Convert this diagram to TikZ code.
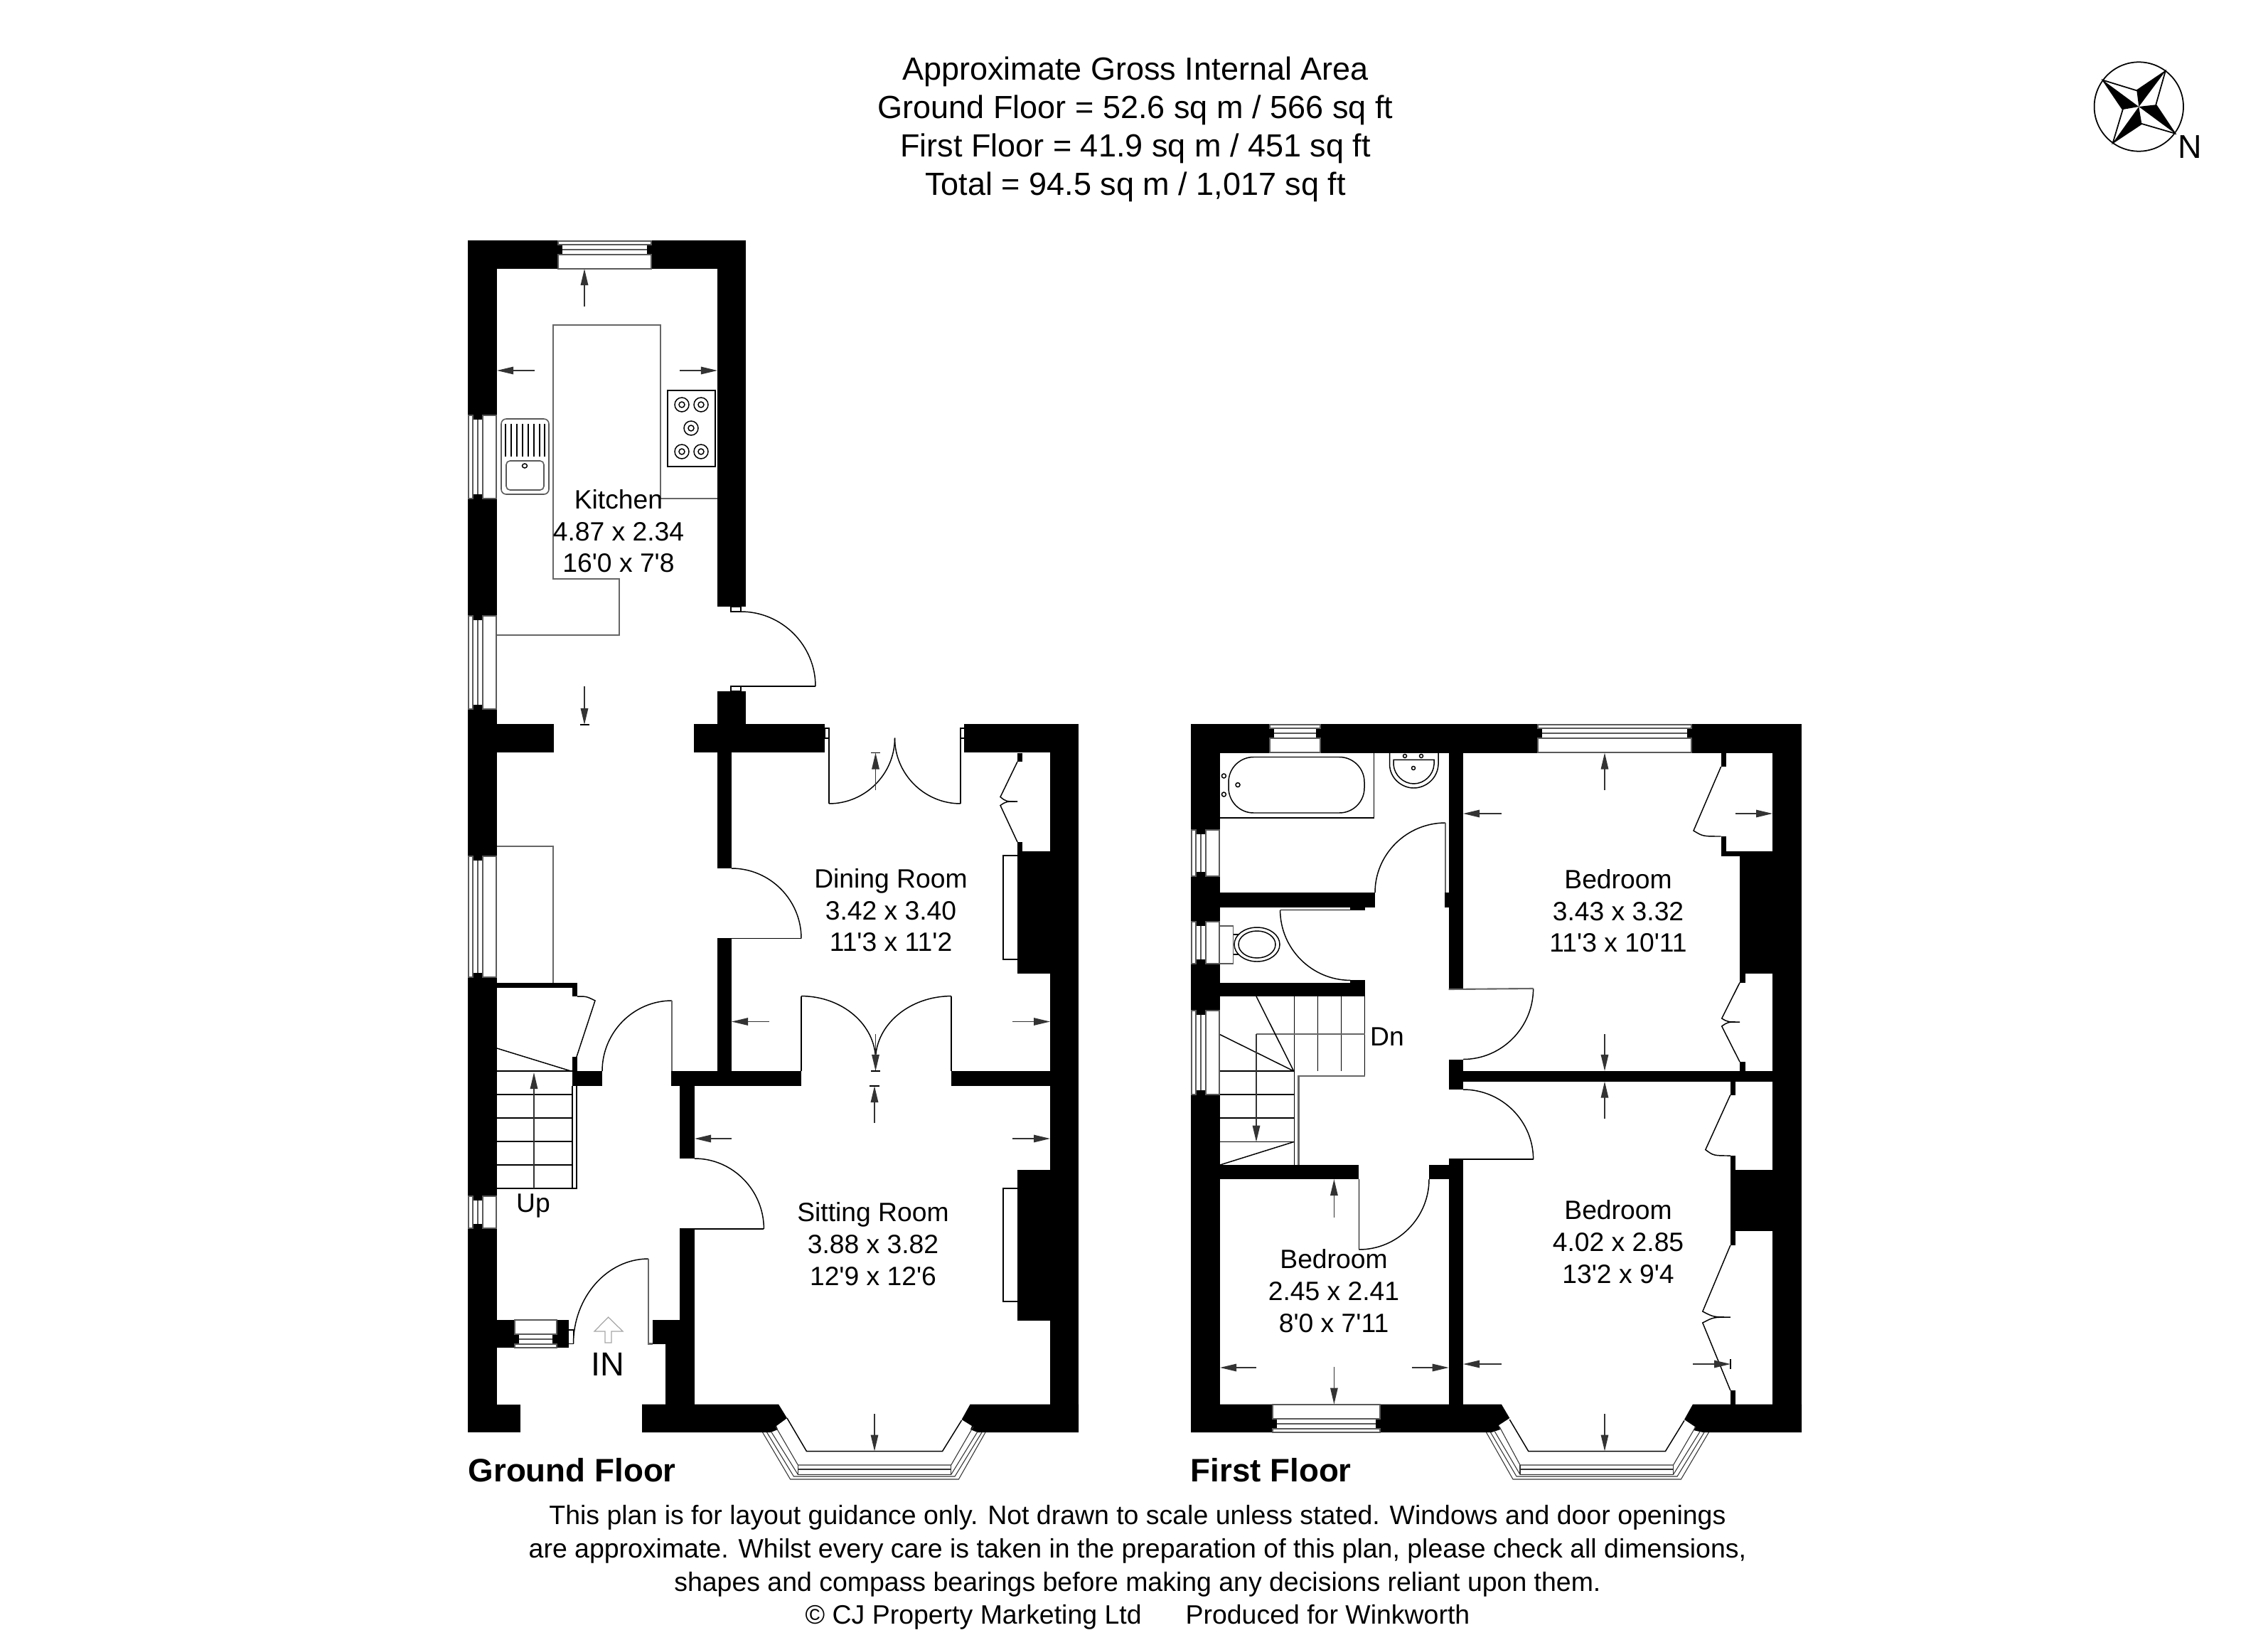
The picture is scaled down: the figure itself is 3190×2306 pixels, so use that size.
\documentclass[tikz,border=0pt]{standalone}
\usepackage{fontspec}
\usepackage{tikz}
\usetikzlibrary{arrows.meta}
\newfontfamily\planfont{Liberation Sans}
\tikzset{
	wall/.style={fill=black},
	thinline/.style={line width=0.42pt},
	bayline/.style={line width=0.3pt,black!80},
	greyline/.style={line width=0.6pt,black!60},
	winline/.style={line width=0.45pt,black!65},
	dim/.style={->,line width=0.4pt,black!80},
	roomlabel/.style={font=\planfont\fontsize{10.6}{12.7}\selectfont,align=center,inner sep=0pt},
	headtext/.style={font=\planfont\fontsize{12.8}{15.3}\selectfont,align=center,inner sep=0pt},
	foottext/.style={font=\planfont\fontsize{10.65}{13.3}\selectfont,align=center,inner sep=0pt},
	floorlabel/.style={font=\planfont\bfseries\fontsize{13}{15}\selectfont,anchor=west,inner sep=0pt},
}
% window in a left hand wall
\newcommand{\winV}[3]{
	\fill[white] (#1,#2) rectangle (#1+40,#3);
	\fill[black] (#1+7,#2) rectangle (#1+21,#2+6);
	\fill[black] (#1+7,#3-6) rectangle (#1+21,#3);
	\draw[winline] (#1+1,#2) rectangle (#1+7,#3);
	\draw[winline] (#1+21,#2) rectangle (#1+40,#3);
	\draw[winline] (#1+14,#2+6) -- (#1+14,#3-6);
}
% window in a horizontal wall, #3 is the outside edge, #4 the side of the room
\newcommand{\winH}[4]{
	\fill[white] (#1,#3) rectangle (#2,#3+#4*39);
	\fill[black] (#1,#3+#4*5) rectangle (#1+6,#3+#4*19);
	\fill[black] (#2-6,#3+#4*5) rectangle (#2,#3+#4*19);
	\draw[winline] (#1,#3) rectangle (#2,#3+#4*5);
	\draw[winline] (#1,#3+#4*19) rectangle (#2,#3+#4*39);
	\draw[winline] (#1+6,#3+#4*12) -- (#2-6,#3+#4*12);
}
% door swing, leaves the hinge side level and ends upright
\newcommand{\swing}[4]{
	\draw[thinline] (#1,#2) .. controls ({#1+0.55*(#3-(#1))},#2) and (#3,{#4-0.55*(#4-(#2))}) .. (#3,#4);
}
\newcommand{\burner}[2]{
	\draw[thinline] (#1,#2) circle [x radius=10,y radius=10];
	\draw[thinline] (#1,#2) circle [x radius=4,y radius=4];
}
\begin{document}
\begin{tikzpicture}[x=0.01cm,y=-0.01cm,>={Triangle[length=0.23cm,width=0.105cm]}]
	\useasboundingbox (0,0) rectangle (3190,2306);
	%Heading
	\node[headtext] (heading) at (1597,182) {Approximate Gross Internal Area\\Ground Floor = 52.6 sq m / 566 sq ft\\First Floor = 41.9 sq m / 451 sq ft\\Total = 94.5 sq m / 1,017 sq ft};
	%Compass
	\draw[line width=0.5pt] (3008.3,150) circle [x radius=62.7,y radius=62.7];
	\fill (3045.7,100) -- (3005.3,127.3) -- (3008.3,150) -- cycle;
	\fill (3059.3,187.7) -- (3032.3,147.3) -- (3008.3,150) -- cycle;
	\fill (2971.7,201) -- (3012.3,174) -- (3008.3,150) -- cycle;
	\fill (2957.7,112.7) -- (2985.7,154) -- (3008.3,150) -- cycle;
	\draw[line width=0.5pt] (3045.7,100) -- (3005.3,127.3) -- (2957.7,112.7) -- (2985.7,154) -- (2971.7,201) -- (3012.3,174) -- (3059.3,187.7) -- (3032.3,147.3) -- cycle;
	\node[font=\planfont\fontsize{13.2}{15}\selectfont,inner sep=0pt] (north) at (3080,207) {N};

	%Ground floor walls
	\fill[wall] (658,338) rectangle (1049,378);
	\fill[wall] (658,338) rectangle (699,2014);
	\fill[wall] (1009,338) rectangle (1049,853);
	\fill[wall] (1009,972) rectangle (1049,1019);
	\fill[wall] (658,1018) rectangle (779,1058);
	\fill[wall] (976,1018) rectangle (1160,1058);
	\fill[wall] (1356,1018) rectangle (1517,1058);
	\fill[wall] (1477,1018) rectangle (1517,2014);
	\fill[wall] (1009,1058) rectangle (1029,1221);
	\fill[wall] (1009,1319.5) rectangle (1029,1506);
	\fill[wall] (944,1506) rectangle (1127,1527);
	\fill[wall] (1338,1506) rectangle (1517,1527);
	\fill[wall] (805,1506) rectangle (847,1527);
	\fill[wall] (699,1381.6) rectangle (812,1389);
	\fill[wall] (805,1381.6) rectangle (812,1401);
	\fill[wall] (805,1486) rectangle (812,1506);
	\fill[wall] (956,1527) rectangle (977,1629);
	\fill[wall] (956,1728) rectangle (977,1856);
	\fill[wall] (658,1856) rectangle (800,1895);
	\fill[wall] (918,1856) rectangle (977,1889.5);
	\fill[wall] (936,1889) rectangle (977,1975);
	\fill[wall] (658,1974.5) rectangle (732,2014);
	\fill[wall] (903,1974.5) -- (1095,1974.5) -- (1107,1994) -- (1092,2005) -- (1094,2010) -- (1084,2014) -- (903,2014) -- cycle;
	\fill[wall] (1517,1974.5) -- (1364.6,1974.5) -- (1352.6,1996) -- (1367,2005) -- (1365,2010) -- (1375,2014) -- (1517,2014) -- cycle;
	%Chimney breasts
	\fill[wall] (1431,1197) rectangle (1477,1368.5);
	\fill[wall] (1431,1645) rectangle (1477,1857);
	\draw[thinline] (1431,1203) -- (1411,1203) -- (1411,1349) -- (1431,1349);
	\draw[thinline] (1431,1671) -- (1411,1671) -- (1411,1830) -- (1431,1830);
	%Cupboard in dining room
	\fill[wall] (1431,1058.5) rectangle (1438,1071);
	\fill[wall] (1431,1184) rectangle (1438,1197);
	\draw[thinline] (1431,1071) -- (1407,1120.6) .. controls (1415,1127) .. (1431,1127);
	\draw[thinline] (1431,1127) .. controls (1415,1127) .. (1407,1132.5) -- (1431,1184);
	%Windows
	\winH{785}{916}{339}{1}
	\winV{658}{584}{701}
	\winV{658}{866}{997}
	\winV{658}{1204}{1374}
	\winV{658}{1682}{1727}
	\winH{724}{783}{1895}{-1}
	%Kitchen units
	\draw[greyline] (699,893) -- (871,893) -- (871,814) -- (778,814) -- (778,457) -- (929,457) -- (929,701) -- (1009,701);
	\draw[thinline] (939,549) rectangle (1006,656);
	\burner{959}{569}
	\burner{986}{569}
	\burner{972}{602}
	\burner{959}{635}
	\burner{986}{635}
	\draw[winline,rounded corners=2pt] (705,589) rectangle (772,695);
	\draw[winline,rounded corners=1.5pt] (712,648) rectangle (765,689);
	\draw[thinline] (738,655) circle [x radius=3.5,y radius=3];
	\draw[thinline] (711,596) -- (711,642) (719,596) -- (719,642) (727,596) -- (727,642) (735,596) -- (735,642) (743,596) -- (743,642) (751,596) -- (751,642) (759,596) -- (759,642) (766,596) -- (766,642);
	%Back door
	\draw[thinline] (1028,853) rectangle (1042,860);
	\swing{1042}{860}{1147}{965}
	\draw[thinline] (1147,965) -- (1028,965) -- (1028,972) -- (1042,972) -- (1042,965);
	%Garden doors
	\draw[thinline] (1160,1024) rectangle (1166,1038);
	\draw[thinline] (1351,1024) rectangle (1357,1038);
	\draw[thinline] (1166,1024) -- (1166,1130);
	\draw[thinline] (1351,1024) -- (1351,1130);
	\swing{1166}{1130}{1258.5}{1037.6}
	\swing{1351}{1130}{1258.5}{1037.6}
	%Doors between rooms
	\swing{1029}{1221}{1127}{1319.5}
	\draw[thinline] (1127,1319.5) -- (1009,1319.5);
	\draw[thinline] (1127,1400.6) -- (1127,1506);
	\draw[thinline] (1338,1400.6) -- (1338,1506);
	\swing{1127}{1400.6}{1231.5}{1490}
	\swing{1338}{1400.6}{1231.5}{1490}
	\swing{945}{1407}{847}{1506}
	\draw[greyline] (945,1407) -- (945,1506);
	\swing{977}{1629}{1074.4}{1728}
	\draw[thinline] (1074.4,1728) -- (956,1728);
	\swing{912}{1770}{806.5}{1889.5}
	\draw[greyline] (912,1770) -- (912,1889.5) -- (918,1889.5);
	\draw[thinline] (800,1870) -- (806.5,1870) -- (806.5,1889.5) -- (800,1889.5);
	%Cupboard under stairs
	\draw[thinline] (812,1401) .. controls (825,1401) .. (837,1407) -- (811,1486);
	\draw[greyline] (699,1190) -- (778,1190) -- (778,1381.6);
	%Stairs up
	\draw[thinline] (699,1474) -- (803,1506);
	\draw[thinline] (699,1506) -- (805,1506) (699,1539) -- (805,1539) (699,1572) -- (805,1572) (699,1605) -- (805,1605) (699,1638) -- (805,1638);
	\draw[thinline] (699,1671) -- (811,1671) -- (811,1527) (805,1527) -- (805,1671);
	\draw[dim] (751,1671) -- (751,1508);
	%Way in
	\draw[black!35,line width=0.35pt] (855.6,1852) -- (876,1872) -- (860,1872) -- (860,1888) -- (851,1888) -- (851,1872) -- (836,1872) -- cycle;
	%Bay window
	\draw[thinline] (1107,1994) -- (1134.4,2040.5) -- (1325.6,2040.5) -- (1352.6,1997);
	\draw[bayline] (1072.6,2014) -- (1111.6,2080) -- (1348.4,2080) -- (1386,2014);
	\draw[bayline] (1078.6,2014) -- (1116.4,2076) -- (1343,2076) -- (1381,2014);
	\draw[bayline] (1084.6,2013) -- (1122.4,2073.4) -- (1337.7,2073.4) -- (1375,2013);
	\draw[bayline] (1091,2006) -- (1122.4,2060) -- (1337.7,2060) -- (1369,2006);
	\draw[bayline] (1122.4,2060) -- (1122.4,2073.4) (1122.4,2066) -- (1337.7,2066) (1337.7,2060) -- (1337.7,2073.4);
	%Measurements
	\draw[dim] (822,431) -- (822,378);
	\draw[dim] (752,521) -- (699,521);
	\draw[dim] (956,521) -- (1009,521);
	\draw[dim] (822,965) -- (822,1019);
	\draw[thinline] (816,1019) -- (829,1019);
	\draw[dim] (1231.5,1111) -- (1231.5,1058.5);
	\draw[thinline] (1225,1058.5) -- (1238,1058.5);
	\draw[dim] (1082,1436.5) -- (1029,1436.5);
	\draw[dim] (1424,1436.5) -- (1477,1436.5);
	\draw[dim] (1231.5,1454) -- (1231.5,1506);
	\draw[thinline] (1225,1506) -- (1238,1506);
	\draw[dim] (1230,1579) -- (1230,1527);
	\draw[thinline] (1223,1527) -- (1237,1527);
	\draw[dim] (1029,1601) -- (977,1601);
	\draw[dim] (1424,1601) -- (1477,1601);
	\draw[dim] (1230,1988) -- (1230,2040.5);
	%Ground floor texts
	\node[roomlabel] (kitchen) at (870,747) {Kitchen\\4.87 x 2.34\\16'0 x 7'8};
	\node[roomlabel] (diningroom) at (1253,1280) {Dining Room\\3.42 x 3.40\\11'3 x 11'2};
	\node[roomlabel] (sittingroom) at (1228,1749) {Sitting Room\\3.88 x 3.82\\12'9 x 12'6};
	\node[roomlabel] (stairsup) at (750,1696) {Up};
	\node[font=\planfont\fontsize{13.3}{15}\selectfont,inner sep=0pt] (wayin) at (855,1918) {IN};
	\node[floorlabel] (groundfloor) at (658,2067) {Ground Floor};

	%First floor walls
	\fill[wall] (1675,1018) rectangle (2534,1058.5);
	\fill[wall] (1675,1018) rectangle (1716,2014);
	\fill[wall] (2493,1018) rectangle (2534,2014);
	\fill[wall] (1675,1974.5) -- (2111.8,1974.5) -- (2123.3,1994) -- (2108,2004) -- (2110,2010) -- (2098,2014) -- (1675,2014) -- cycle;
	\fill[wall] (2534,1974.5) -- (2381,1974.5) -- (2369,1996) -- (2384,2006) -- (2382,2011) -- (2395,2014) -- (2534,2014) -- cycle;
	\fill[wall] (2037.7,1058) rectangle (2058,1391.5);
	\fill[wall] (2032,1255) rectangle (2058,1275.6);
	\fill[wall] (2037.7,1489.5) rectangle (2058,1532);
	\fill[wall] (2037.7,1506) rectangle (2493,1520.6);
	\fill[wall] (2037.7,1630.5) rectangle (2058,1974.5);
	\fill[wall] (2010,1638) rectangle (2058,1658);
	\fill[wall] (1675,1255) rectangle (1934,1275.6);
	\fill[wall] (1899.4,1275.6) rectangle (1920,1279.5);
	\fill[wall] (1675,1381.6) rectangle (1920,1401);
	\fill[wall] (1899.4,1378) rectangle (1920,1381.6);
	\fill[wall] (1675,1638) rectangle (1911.4,1658);
	%Chimney breasts
	\fill[wall] (2447,1196.5) rectangle (2493,1368.5);
	\fill[wall] (2420.6,1196.5) rectangle (2447,1203.6);
	\fill[wall] (2433.8,1645) rectangle (2493,1731);
	%Wardrobes
	\fill[wall] (2420.6,1058.5) rectangle (2428,1078);
	\fill[wall] (2420.6,1176) rectangle (2428,1203.6);
	\fill[wall] (2447,1368.5) rectangle (2454.5,1381.6);
	\fill[wall] (2447,1493) rectangle (2454.5,1506);
	\fill[wall] (2433.8,1520.6) rectangle (2441.3,1539.5);
	\fill[wall] (2433.8,1625) rectangle (2441.3,1645);
	\fill[wall] (2433.8,1731) rectangle (2441.3,1751);
	\fill[wall] (2433.8,1955) rectangle (2441.3,1974.5);
	\draw[thinline] (2420.6,1078) -- (2382,1168) .. controls (2395,1176) .. (2420.6,1176);
	\draw[thinline] (2447,1381.6) -- (2421.7,1432) .. controls (2430,1437) .. (2447,1437) .. controls (2430,1437) .. (2421.7,1443) -- (2447,1493);
	\draw[thinline] (2433.8,1539.5) -- (2398.8,1616.6) .. controls (2410,1625) .. (2433.8,1625);
	\draw[thinline] (2433.8,1751) -- (2394.8,1844) .. controls (2410,1852) .. (2433.8,1852) .. controls (2410,1852) .. (2394.8,1860) -- (2433.8,1955);
	%Windows
	\winH{1786}{1857}{1019}{1}
	\winH{2163}{2379}{1019}{1}
	\winV{1675}{1167}{1232}
	\winV{1675}{1296}{1355}
	\winV{1675}{1421}{1539}
	\winH{1790}{1941}{2014}{-1}
	%Bathroom
	\draw[thinline] (1716,1150) -- (1932.7,1150) -- (1932.7,1058.5);
	\draw[thinline,rounded corners=10pt] (1728,1064.5) rectangle (1919,1143);
	\draw[thinline] (1721.4,1091) circle [x radius=3,y radius=3];
	\draw[thinline] (1721.4,1117) circle [x radius=3,y radius=3];
	\draw[thinline] (1741,1103.6) circle [x radius=3,y radius=3];
	\draw[thinline] (1954.5,1058.5) -- (1954.5,1075) .. controls (1955,1095) and (1972,1108) .. (1988.5,1108) .. controls (2005,1108) and (2022,1095) .. (2023,1075) -- (2023,1058.5);
	\draw[thinline] (1960,1068.4) -- (2017,1068.4) -- (2017,1075) .. controls (2016,1090) and (2003,1102) .. (1988.5,1102) .. controls (1974,1102) and (1961,1090) .. (1960,1075) -- cycle;
	\draw[thinline] (1976,1063) circle [x radius=2.5,y radius=2.5];
	\draw[thinline] (1999,1063) circle [x radius=2.5,y radius=2.5];
	\draw[thinline] (1988,1080) circle [x radius=2.5,y radius=2.5];
	%WC
	\draw[winline] (1716,1302) -- (1734.6,1302) -- (1734.6,1355) -- (1716,1355);
	\draw[thinline] (1734.6,1314) -- (1743,1314) (1734.6,1342) -- (1743,1342);
	\draw[thinline] (1768,1328) circle [x radius=32,y radius=24];
	\draw[thinline] (1768,1328) circle [x radius=26,y radius=19];
	%Doors
	\swing{2033}{1157}{1934}{1255}
	\draw[greyline] (2033,1157) -- (2033,1255);
	\swing{1899.4}{1378.4}{1800.6}{1279.5}
	\draw[thinline] (1800.6,1279.5) -- (1899.4,1279.5);
	\swing{2058}{1489.5}{2156.6}{1390}
	\draw[greyline] (2156.6,1390) -- (2037.7,1391);
	\swing{2058}{1532}{2156.6}{1630}
	\draw[thinline] (2156.6,1630) -- (2037.7,1630);
	\swing{1911.4}{1757}{2010}{1658}
	\draw[thinline] (1911.4,1757) -- (1911.4,1658);
	%Stairs down
	\draw[thinline] (1820.7,1401) -- (1820.7,1638) (1853.5,1401) -- (1853.5,1506) (1886.7,1401) -- (1886.7,1506) (1919.5,1401) -- (1919.5,1513);
	\draw[greyline] (1767,1454) -- (1919.5,1454);
	\draw[thinline] (1767,1401) -- (1819.6,1506) -- (1716,1454.7);
	\draw[thinline] (1716,1638) -- (1819.6,1605.6);
	\draw[thinline] (1716,1506) -- (1820,1506) (1716,1539) -- (1820,1539) (1716,1572) -- (1820,1572) (1716,1605.6) -- (1820,1605.6);
	\draw[greyline] (1919.5,1513) -- (1826.5,1513) -- (1826.5,1638);
	\draw[dim] (1767,1454) -- (1767,1605.6);
	%Bay window
	\draw[thinline] (2123.3,1996) -- (2149.7,2040.5) -- (2342.5,2040.5) -- (2369,1997.4);
	\draw[bayline] (2090.5,2014) -- (2128,2080) -- (2364.4,2080) -- (2403.4,2014);
	\draw[bayline] (2096.5,2014) -- (2133,2076) -- (2359,2076) -- (2397,2014);
	\draw[bayline] (2102.5,2013) -- (2138,2073.4) -- (2353.5,2073.4) -- (2391,2013);
	\draw[bayline] (2109,2006) -- (2138,2060) -- (2353.5,2060) -- (2385,2006);
	\draw[bayline] (2138,2060) -- (2138,2073.4) (2138,2066) -- (2353.5,2066) (2353.5,2060) -- (2353.5,2073.4);
	%Measurements
	\draw[dim] (2257,1111) -- (2257,1058.5);
	\draw[dim] (2112,1144) -- (2058,1144);
	\draw[dim] (2440.7,1144) -- (2493,1144);
	\draw[dim] (2257,1454) -- (2257,1506);
	\draw[dim] (2257,1573) -- (2257,1520.6);
	\draw[dim] (2112,1918) -- (2058,1918);
	\draw[dim] (2381,1918) -- (2434,1918);
	\draw[thinline] (2434,1911) -- (2434,1925);
	\draw[dim] (2257,1988) -- (2257,2040.5);
	\draw[dim] (1876.4,1711.5) -- (1876.4,1658);
	\draw[dim] (1767,1923) -- (1716,1923);
	\draw[dim] (1985.5,1923) -- (2037.7,1923);
	\draw[dim] (1876.4,1922) -- (1876.4,1974.5);
	%First floor texts
	\node[roomlabel] (bedroomback) at (2276,1281) {Bedroom\\3.43 x 3.32\\11'3 x 10'11};
	\node[roomlabel] (bedroomfront) at (2276,1746) {Bedroom\\4.02 x 2.85\\13'2 x 9'4};
	\node[roomlabel] (bedroomsmall) at (1876,1815) {Bedroom\\2.45 x 2.41\\8'0 x 7'11};
	\node[roomlabel] (stairsdown) at (1951,1458) {Dn};
	\node[floorlabel] (firstfloor) at (1674,2067) {First Floor};

	%Footer
	\node[foottext] (footnote) at (1600,2204) {This plan is for layout guidance only. Not drawn to scale unless stated. Windows and door openings\\are approximate. Whilst every care is taken in the preparation of this plan, please check all dimensions,\\shapes and compass bearings before making any decisions reliant upon them.\\\copyright{} CJ Property Marketing Ltd \hspace{1.1em} Produced for Winkworth};
\end{tikzpicture}
\end{document}
